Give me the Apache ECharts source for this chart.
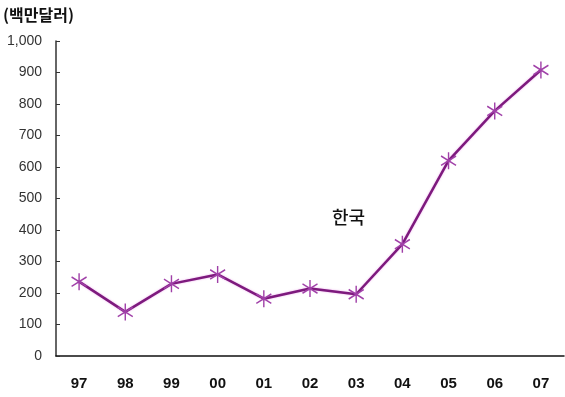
<!DOCTYPE html>
<html>
<head>
<meta charset="utf-8">
<script src="https://cdn.jsdelivr.net/npm/echarts@6/dist/echarts.min.js"></script>
<style>
  html, body { margin: 0; padding: 0; background: #fff; }
  #chart { width: 565px; height: 397px; }
</style>
</head>
<body>
<div id="chart"></div>
<script>
// Korea, yearly values in millions of US dollars
const years = ['97', '98', '99', '00', '01', '02', '03', '04', '05', '06', '07'];
const korea = [236, 140, 229, 259, 182, 214, 196, 355, 620, 778, 908];
const yTicks = { min: 0, max: 1000, interval: 100 };
const unitLabel = '(백만달러)';
const seriesLabel = '한국';

// six-armed asterisk marker
const asterisk = 'path://M0,-9 L0,9 M-8,-5 L8,5 M-8,5 L8,-5';

const chart = echarts.init(document.getElementById('chart'));
chart.setOption({
  animation: false,
  backgroundColor: '#ffffff',
  grid: { left: 56, right: 1, top: 41, bottom: 41, containLabel: false },
  xAxis: {
    type: 'category',
    data: years,
    boundaryGap: true,
    axisLine: { lineStyle: { color: '#111', width: 1.5 } },
    axisTick: { inside: true, length: 5, lineStyle: { color: '#111' } },
    axisLabel: {
      margin: 20,
      color: '#111',
      fontFamily: 'Liberation Sans Narrow, Arial Narrow, sans-serif',
      fontWeight: 'bold',
      fontSize: 15
    }
  },
  yAxis: {
    type: 'value',
    min: yTicks.min,
    max: yTicks.max,
    interval: yTicks.interval,
    splitLine: { show: false },
    axisLine: { show: true, lineStyle: { color: '#333', width: 1.5 } },
    axisTick: { show: true, inside: true, length: 4, lineStyle: { color: '#333' } },
    axisLabel: {
      margin: 14,
      color: '#333',
      fontFamily: 'Liberation Sans Narrow, Arial Narrow, sans-serif',
      fontSize: 14,
      formatter: v => v.toLocaleString('en-US')
    }
  },
  series: [{
    type: 'line',
    data: korea,
    symbol: asterisk,
    symbolSize: [15, 17],
    showAllSymbol: true,
    lineStyle: { color: '#7d1a7d', width: 2.5, shadowColor: 'rgba(220,80,220,0.5)', shadowBlur: 2 },
    itemStyle: { color: 'rgba(0,0,0,0)', borderColor: '#a040a8', borderWidth: 1.5 }
  }],
  graphic: [
    {
      type: 'text', left: 3, top: 7,
      style: { text: unitLabel, font: 'bold 16px "Noto Sans CJK KR", sans-serif', fill: '#111' }
    },
    {
      type: 'text', left: 332, top: 208,
      style: { text: seriesLabel, font: '500 18px "Noto Sans CJK KR", sans-serif', fill: '#111' }
    }
  ]
});
</script>
</body>
</html>
